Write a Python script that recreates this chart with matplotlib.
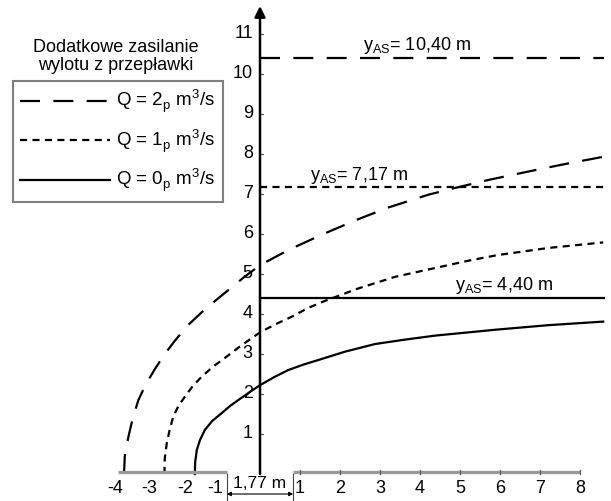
import matplotlib
matplotlib.use("Agg")
import matplotlib.pyplot as plt

plt.rcParams['font.family'] = ['Liberation Sans', 'DejaVu Sans']
plt.rcParams['mathtext.fontset'] = 'custom'
plt.rcParams['mathtext.rm'] = 'Liberation Sans'

# curves (x in m, y in m)
q2_x = [-3.40, -3.38, -3.29, -3.18, -3.04, -2.85, -2.63, -2.38, -2.13, -1.80, -1.46, -1.12, -0.79, -0.40,
        0.0, 0.71, 1.54, 2.38, 3.20, 4.20, 4.83, 5.75, 6.70, 7.58, 8.58]
q2_y = [0.0, 0.45, 0.93, 1.40, 1.85, 2.25, 2.62, 3.00, 3.33, 3.72, 4.04, 4.33, 4.60, 4.92,
        5.22, 5.60, 5.98, 6.34, 6.66, 6.98, 7.14, 7.36, 7.56, 7.74, 7.93]

q1_x = [-2.39, -2.38, -2.33, -2.26, -2.17, -2.04, -1.88, -1.68, -1.46, -1.18, -0.88, -0.46,
        0.0, 0.40, 0.79, 1.20, 1.63, 2.46, 3.38, 4.38, 5.15, 5.92, 7.20, 8.58]
q1_y = [0.0, 0.40, 0.77, 1.10, 1.43, 1.70, 1.93, 2.20, 2.43, 2.68, 2.90, 3.22,
        3.54, 3.75, 3.93, 4.15, 4.33, 4.64, 4.93, 5.15, 5.32, 5.47, 5.65, 5.79]

q0_x = [-1.63, -1.62, -1.58, -1.50, -1.38, -1.20, -0.96, -0.75, -0.54, -0.27,
        0.0, 0.35, 0.71, 1.10, 1.46, 2.13, 2.88, 3.63, 4.38, 5.10, 5.92, 7.20, 8.58]
q0_y = [0.0, 0.30, 0.60, 0.85, 1.10, 1.32, 1.52, 1.70, 1.85, 2.04,
        2.22, 2.42, 2.60, 2.74, 2.85, 3.06, 3.25, 3.36, 3.46, 3.53, 3.61, 3.72, 3.81]

y_as = [10.40, 7.17, 4.40]
y_as_labels = ['10,40', '7,17', '4,40']
y_as_label_x = [2.58, 1.25, 4.88]
series_labels = [r'Q = 2$_\mathregular{p}$ m$^\mathregular{3}$/s',
                 r'Q = 1$_\mathregular{p}$ m$^\mathregular{3}$/s',
                 r'Q = 0$_\mathregular{p}$ m$^\mathregular{3}$/s']

x_right_ticks = [1, 2, 3, 4, 5, 6, 7, 8]
x_left_tick_pos = [-3.63, -2.78, -1.88, -1.13]
x_left_tick_labels = ['-4', '-3', '-2', '-1']
y_ticks = [1, 2, 3, 4, 5, 6, 7, 8, 9, 10, 11]
gap_half = 0.83
line_end = 8.6

fig = plt.figure(figsize=(6.11, 5.01), dpi=100)
ax = fig.add_axes([0, 0, 1, 1])
ax.set_xlim(-6.5, 8.775)
ax.set_ylim(-0.675, 11.85)
ax.axis('off')

lw = 1.6
dash_long = (0, (9, 6))
dash_short = (0, (3.2, 2.4))
styles = [dash_long, dash_short, '-']

h2, = ax.plot(q2_x, q2_y, color='black', lw=lw, linestyle=dash_long, label=series_labels[0])
h1, = ax.plot(q1_x, q1_y, color='black', lw=lw, linestyle=dash_short, label=series_labels[1])
h0, = ax.plot(q0_x, q0_y, color='black', lw=lw, linestyle='-', label=series_labels[2])

for yv, lab, lx, st in zip(y_as, y_as_labels, y_as_label_x, styles):
    ax.plot([0, line_end], [yv, yv], color='black', lw=lw, linestyle=st)
    ax.text(lx, yv + 0.3, r'y$_\mathregular{AS}$= ' + lab + ' m', fontsize=13,
            ha='left', va='center')

# x axis with grey bands
ax.plot([-3.55, -gap_half], [0.06, 0.06], color='#9a9a9a', lw=2.4, solid_capstyle='butt')
ax.plot([gap_half, 8.0], [0.06, 0.06], color='#9a9a9a', lw=2.4, solid_capstyle='butt')
ax.annotate('', xy=(8.8, 0), xytext=(-3.55, 0),
            arrowprops=dict(arrowstyle='-|>', color='black', lw=1.8,
                            mutation_scale=16, shrinkA=0, shrinkB=0), zorder=5)
ax.annotate('', xy=(0, 11.7), xytext=(0, 0),
            arrowprops=dict(arrowstyle='-|>', color='black', lw=1.8,
                            mutation_scale=16, shrinkA=0, shrinkB=0), zorder=5)

for t in x_right_ticks:
    ax.plot([t, t], [0, 0.1], color='#555555', lw=0.8)
    ax.text(t, -0.36, str(t), fontsize=13, ha='center', va='center')
for p, lab in zip(x_left_tick_pos, x_left_tick_labels):
    ax.text(p, -0.36, lab, fontsize=13, ha='center', va='center')
for t in y_ticks:
    ax.plot([0, 0.08], [t, t], color='#555555', lw=0.8)
    ax.text(-0.18, t, str(t), fontsize=13, ha='right', va='center')

# 1,77 m dimension
for xv in (-gap_half, gap_half):
    ax.plot([xv, xv], [0, -0.7], color='#444444', lw=0.8)
ax.annotate('', xy=(gap_half, -0.5), xytext=(-gap_half, -0.5),
            arrowprops=dict(arrowstyle='<|-|>', color='black', lw=0.8,
                            mutation_scale=6, shrinkA=0, shrinkB=0))
ax.text(0, -0.25, '1,77 m', fontsize=12.5, ha='center', va='center')

fig.text(0.19, 0.887, 'Dodatkowe zasilanie\nwylotu z przepławki', fontsize=13,
         ha='center', va='center', linespacing=1.05)
leg = ax.legend(handles=[h2, h1, h0], loc='upper left', bbox_to_anchor=(0.021, 0.839),
                bbox_transform=fig.transFigure, borderaxespad=0, fontsize=13.5,
                handlelength=4.8, labelspacing=0.65, handletextpad=0.3,
                fancybox=False, framealpha=1, borderpad=0.4)
leg.get_frame().set_edgecolor('#808080')
leg.get_frame().set_linewidth(1.5)

fig.savefig('out.png', dpi=100)
